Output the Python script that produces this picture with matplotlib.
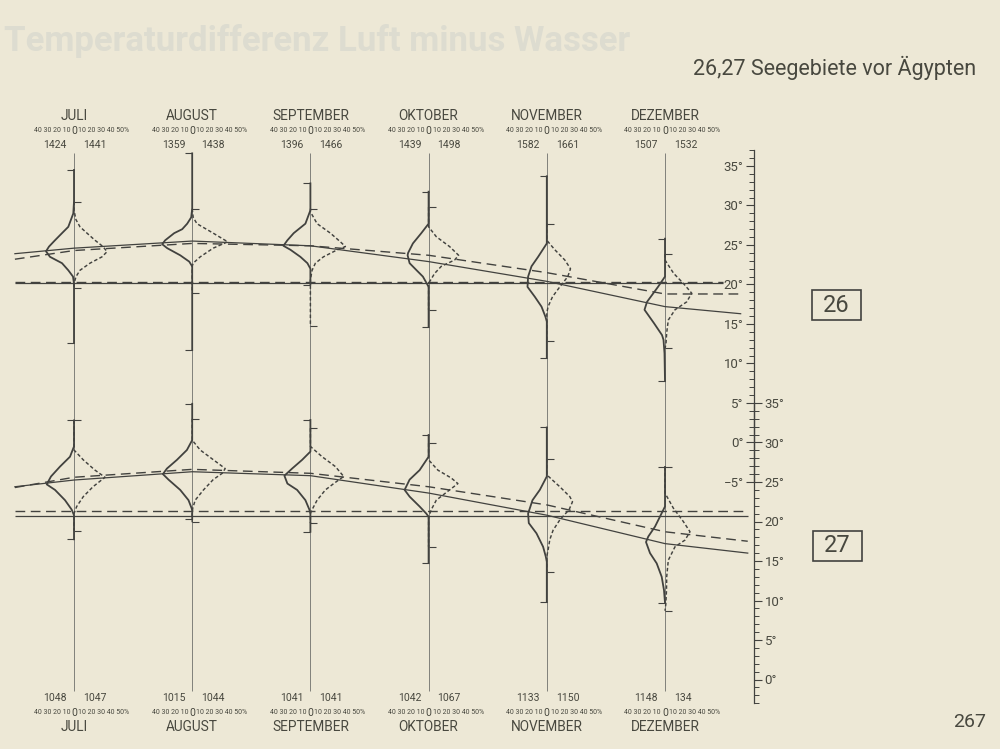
import matplotlib
matplotlib.use("Agg")
import matplotlib.pyplot as plt
from matplotlib.patches import Rectangle
from matplotlib.transforms import blended_transform_factory

plt.rcParams['font.family'] = ['Roboto', 'DejaVu Sans']

# ---------------------------------------------------------------- data
months = ['JULI', 'AUGUST', 'SEPTEMBER', 'OKTOBER', 'NOVEMBER', 'DEZEMBER']
pct_labels_left = '40 30 20 10'
pct_labels_right = '10 20 30 40 50%'

# number of observations (air = left/solid, water = right/dashed)
n26_air = [1424, 1359, 1396, 1439, 1582, 1507]
n26_water = [1441, 1438, 1466, 1498, 1661, 1532]
n27_air = [1048, 1015, 1041, 1042, 1133, 1148]
n27_water = [1047, 1044, 1041, 1067, 1150, 134]

# monthly means (half month before Juli ... beyond Dezember)
trend26_pos = [-0.5, 0, 1, 2, 3, 4, 5, 5.64]
trend27_pos = [-0.5, 0, 1, 2, 3, 4, 5, 5.70]
m26_air = [23.9, 24.6, 25.5, 24.9, 22.9, 20.4, 17.2, 16.3]
m26_water = [23.2, 24.3, 25.2, 24.9, 23.7, 21.5, 18.8, 18.8]
m27_air = [24.4, 25.25, 26.3, 25.8, 23.6, 20.8, 17.2, 16.0]
m27_water = [24.3, 25.6, 26.6, 26.1, 24.4, 22.1, 18.7, 17.5]

# annual means (horizontal lines)
annual26_air = 20.15
annual26_water = 20.35
annual27_air = 20.7
annual27_water = 21.3
annual26_span = (-0.5, 5.49)
annual27_span = (-0.5, 5.70)

# frequency distributions: temperature (deg C) and frequency (%)
d26_air_t = [
    [34.5, 30.5, 29.0, 27.3, 26.5, 25.6, 24.8, 24.2, 23.5, 22.7, 21.8, 21.0, 20.1, 12.6],
    [36.6, 29.6, 28.5, 27.7, 27.0, 26.5, 25.6, 25.1, 24.6, 23.7, 22.9, 22.3, 11.7],
    [32.8, 29.4, 27.7, 26.5, 25.6, 24.9, 24.4, 23.5, 22.7, 22.0, 20.0],
    [31.75, 27.7, 26.5, 25.2, 24.0, 23.7, 22.7, 21.8, 21.0, 20.1, 19.7, 14.65],
    [33.7, 25.2, 23.5, 22.3, 21.0, 19.7, 18.45, 17.2, 15.9, 15.3, 10.7],
    [25.8, 21.0, 19.7, 17.8, 16.8, 15.1, 13.6, 13.0, 11.3, 7.8],
]
d26_air_p = [
    [0, 0, 0.7, 5.7, 12, 19, 25, 28, 24, 12, 5.7, 1, 0, 0],
    [0, 0, 1, 5, 10, 18, 27, 30, 25, 12, 3, 0, 0],
    [0, 0, 5, 16.7, 23, 27, 20, 10, 3, 0, 0],
    [0, 0, 7.3, 15.7, 20.5, 21, 19, 12, 5.7, 1.7, 0, 0],
    [0, 0, 8.7, 15.3, 18.7, 19.3, 12, 5.3, 1.3, 0, 0],
    [0, 0, 7, 18, 20.5, 11, 3, 1.5, 0.5, 0],
]
d26_water_t = [
    [30.5, 29.4, 28.2, 27.3, 26.5, 25.6, 24.8, 24.15, 23.5, 22.7, 21.8, 21.0, 20.1, 19.5],
    [29.6, 28.5, 27.7, 26.5, 25.4, 24.6, 23.5, 22.7, 22.3, 18.9],
    [29.6, 29.2, 27.7, 26.5, 25.4, 24.8, 24.4, 23.5, 22.7, 21.8, 20.6, 14.7],
    [29.8, 27.3, 26.05, 24.8, 23.7, 23.1, 22.3, 21.4, 20.35, 19.8, 16.8],
    [27.7, 25.6, 24.4, 23.1, 22.0, 21.0, 19.7, 18.45, 17.2, 16.4, 12.8],
    [23.85, 23.1, 21.4, 20.15, 18.9, 17.8, 16.8, 15.5, 13.9, 12.5, 11.9],
]
d26_water_p = [
    [0, 0, 2, 6, 13, 21, 29, 33, 28, 16, 6, 2, 0, 0],
    [0, 1, 4.7, 21, 35.5, 21, 8, 1, 0, 0],
    [0, 0, 6.7, 20, 30, 35, 27, 13, 5, 1.7, 0, 0],
    [0, 0, 7.7, 21, 30, 26, 12.7, 6, 1, 0, 0],
    [0, 0, 8, 18, 23.7, 21, 13, 5.7, 1.3, 0, 0],
    [0, 0, 8.7, 18.3, 26.7, 21.7, 10, 3.3, 1.7, 1, 0],
]
d27_air_t = [
    [32.8, 29.5, 28.2, 26.95, 25.7, 24.7, 24.0, 22.7, 21.5, 20.8, 17.75],
    [34.9, 30.3, 29.05, 27.8, 26.7, 26.0, 25.3, 24.0, 22.7, 21.65, 21.4, 20.3],
    [32.85, 28.85, 27.8, 26.7, 25.8, 24.8, 24.0, 22.7, 21.5, 21.0, 18.7],
    [30.95, 28.2, 26.5, 25.3, 24.0, 23.15, 21.9, 21.0, 20.6, 14.8],
    [31.9, 25.7, 24.0, 22.7, 21.0, 19.8, 18.5, 16.8, 15.55, 14.9, 9.8],
    [26.9, 21.9, 19.35, 18.1, 17.4, 16.0, 14.7, 13.0, 11.3, 10.5, 9.7],
]
d27_air_p = [
    [0, 0, 4, 14, 23, 27.3, 19, 9, 2.3, 0, 0],
    [0, 0, 5.3, 15.3, 25.3, 29.3, 23.7, 12, 3.7, 0.5, 0, 0],
    [0, 0, 8.3, 18.3, 26, 23, 13.3, 5, 1, 0, 0],
    [0, 0, 9, 19, 24, 19, 9, 2.3, 0, 0],
    [0, 0, 7, 14.3, 18.7, 18, 10.3, 3.7, 1, 0, 0],
    [0, 0, 10, 16.7, 19, 15, 8.3, 3.3, 1, 0.5, 0],
]
d27_water_t = [
    [32.8, 29.05, 27.8, 26.5, 25.6, 24.4, 23.15, 21.9, 21.0, 18.85],
    [33.0, 30.3, 29.05, 27.8, 26.7, 26.1, 25.3, 24.0, 22.7, 21.65, 21.0, 19.9],
    [31.8, 29.5, 28.2, 26.95, 25.7, 24.8, 24.0, 22.7, 21.5, 21.0, 19.8],
    [29.9, 27.8, 26.5, 25.5, 24.8, 24.0, 22.7, 21.5, 20.6, 16.8],
    [27.9, 25.9, 24.4, 23.15, 22.5, 21.5, 20.2, 18.9, 17.7, 16.4, 15.6, 13.65],
    [26.9, 23.6, 21.7, 20.0, 18.7, 17.65, 16.8, 15.1, 13.0, 11.3, 9.5, 8.7],
]
d27_water_p = [
    [0, 0, 9.3, 21, 31, 19, 9.3, 2.7, 0, 0],
    [0, 0, 8, 21.3, 33, 30, 21, 11.3, 3, 0.5, 0, 0],
    [0, 0, 11.7, 25, 33.3, 23.3, 15, 6.7, 1.7, 0, 0],
    [0, 0, 9.3, 22.7, 29.3, 21, 7.7, 2.7, 0, 0],
    [0, 0, 13, 23, 25.7, 22.3, 13, 6.3, 3, 1.3, 0, 0],
    [0, 0, 8.3, 18.3, 25, 20, 10, 3.3, 1.7, 1.5, 0.8, 0],
]

scale26_major = list(range(-5, 36, 5))
scale27_major = list(range(0, 36, 5))

# ---------------------------------------------------------------- layout
W, H = 1000, 749
BG = '#ede8d6'
INK = '#42423f'
TXT = '#48483f'
GRID = '#80807b'
X0_PX = 74.0          # pixel column of first month line
PX_PER_MONTH = 118.2
PX_PER_DEG = 7.9
Y35_PX = 166.0        # pixel row of 35 deg on upper scale
SHIFT = 30            # lower scale offset in degrees
PCT = 1.0 / PX_PER_MONTH   # one percent = one pixel
AXIS_PX = 754.0


def fx(px):
    return px / W


def fy(py):
    return 1 - py / H


fig = plt.figure(figsize=(W / 100, H / 100), dpi=100, facecolor=BG)

xlim = ((0 - X0_PX) / PX_PER_MONTH, (W - X0_PX) / PX_PER_MONTH)
ylim_top = (35 - (H - Y35_PX) / PX_PER_DEG, 35 + Y35_PX / PX_PER_DEG)

ax26 = fig.add_axes([0, 0, 1, 1])
ax27 = fig.add_axes([0, 0, 1, 1])
for ax, off in ((ax26, 0), (ax27, SHIFT)):
    ax.set_xlim(*xlim)
    ax.set_ylim(ylim_top[0] + off, ylim_top[1] + off)
    ax.set_facecolor('none')
    ax.axis('off')

# faint show-through from the reverse page
fig.text(fx(4), fy(41), 'Temperaturdifferenz Luft minus Wasser', fontsize=25,
         weight='bold', color='#dddcd0', ha='left', va='center', zorder=0)

# month lines
mon = list(range(len(months)))
ax26.vlines(mon, 36.6 - 68.0, 36.6, color=GRID, lw=0.7, zorder=1)

TICK = 7 * PCT


def draw_panel(ax, air_t, air_p, water_t, water_p, pos, m_air, m_water,
               a_air, a_water, span):
    ax.hlines(a_air, span[0], span[1], color=INK, lw=0.9, zorder=2)
    ax.hlines(a_water, span[0], span[1], color=INK, lw=1.0,
              linestyles=(0, (7, 4)), zorder=2)
    ax.plot(pos, m_air, color=INK, lw=0.9, zorder=2)
    ax.plot(pos, m_water, color=INK, lw=1.0, dashes=(7, 4), zorder=2)
    for i in mon:
        xs = [i - p * PCT for p in air_p[i]]
        ax.plot(xs, air_t[i], color=INK, lw=1.3, zorder=3,
                solid_joinstyle='round')
        xs = [i + p * PCT for p in water_p[i]]
        ax.plot(xs, water_t[i], color=INK, lw=1.05, dashes=(2.4, 1.6), zorder=3)
        ax.hlines([air_t[i][0], air_t[i][-1]], i - TICK, i, color=INK, lw=0.8)
        ax.hlines([water_t[i][0], water_t[i][-1]], i, i + TICK, color=INK, lw=0.8)


draw_panel(ax26, d26_air_t, d26_air_p, d26_water_t, d26_water_p, trend26_pos,
           m26_air, m26_water, annual26_air, annual26_water, annual26_span)
draw_panel(ax27, d27_air_t, d27_air_p, d27_water_t, d27_water_p, trend27_pos,
           m27_air, m27_water, annual27_air, annual27_water, annual27_span)

# month headers / footers
blend = blended_transform_factory(ax26.transData, fig.transFigure)


def header(i, y_name, y_scale, y_num, n_left, n_right):
    ax26.text(i, fy(y_name), months[i], transform=blend, ha='center',
              va='center', fontsize=9.8, color=TXT)
    ax26.text(i - 4 * PCT, fy(y_scale), pct_labels_left, transform=blend,
              ha='right', va='center', fontsize=5.0, color=TXT)
    ax26.text(i, fy(y_scale), '0', transform=blend, ha='center',
              va='center', fontsize=7.5, color=TXT)
    ax26.text(i + 4 * PCT, fy(y_scale), pct_labels_right, transform=blend,
              ha='left', va='center', fontsize=5.0, color=TXT)
    ax26.text(i - 7 * PCT, fy(y_num), str(n_left), transform=blend,
              ha='right', va='center', fontsize=7.5, color=TXT)
    ax26.text(i + 9 * PCT, fy(y_num), str(n_right), transform=blend,
              ha='left', va='center', fontsize=7.5, color=TXT)


for i in mon:
    header(i, 116, 130.5, 145, n26_air[i], n26_water[i])
    header(i, 727, 712.5, 698, n27_air[i], n27_water[i])


# degree scales
def y_px(t, off):
    return Y35_PX + (35 + off - t) * PX_PER_DEG


def scale_axes(lo, hi, off, side, majors):
    top, bot = y_px(hi, off), y_px(lo, off)
    a = fig.add_axes([fx(AXIS_PX), fy(bot), 1e-4, (bot - top) / H])
    a.set_facecolor('none')
    a.set_ylim(lo, hi)
    a.set_xticks([])
    for s in ('top', 'bottom', 'left', 'right'):
        a.spines[s].set_visible(s == side)
    a.spines[side].set_color(INK)
    a.spines[side].set_linewidth(0.9)
    a.set_yticks(majors)
    a.set_yticks([v for v in range(lo, hi + 1) if v not in majors], minor=True)
    a.set_yticklabels([('\u2212%d°' % -v) if v < 0 else '%d°' % v for v in majors])
    if side == 'left':
        a.yaxis.tick_left()
    else:
        a.yaxis.tick_right()
    a.tick_params(axis='y', which='major', length=6, width=0.8, color=INK,
                  labelsize=9.5, labelcolor=TXT, pad=1.5)
    a.tick_params(axis='y', which='minor', length=3.5, width=0.7, color=INK)
    return a


scale_axes(-5, 37, 0, 'left', scale26_major)
scale_axes(-3, 35, SHIFT, 'right', scale27_major)

# area boxes
for label, cx, cy in (('26', 836.5, 305), ('27', 837.5, 545.5)):
    fig.patches.append(Rectangle((fx(cx - 24.5), fy(cy + 15)), 49 / W, 30 / H,
                                 transform=fig.transFigure, fill=False,
                                 ec=INK, lw=1.2))
    fig.text(fx(cx), fy(cy), label, ha='center', va='center', fontsize=17,
             color=TXT)

# title and page number
fig.text(fx(976), fy(68), '26,27 Seegebiete vor Ägypten', ha='right',
         va='center', fontsize=15.5, color=TXT)
fig.text(fx(986), fy(722), '267', ha='right', va='center', fontsize=14,
         color=TXT)

fig.savefig('out.png', dpi=100, facecolor=BG)
